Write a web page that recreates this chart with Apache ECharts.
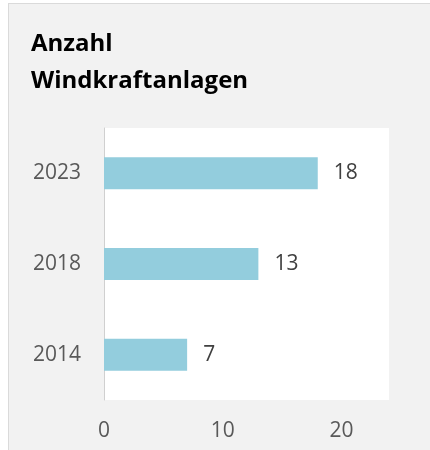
<!DOCTYPE html>
<html>
<head>
<meta charset="utf-8">
<script src="https://cdn.jsdelivr.net/npm/echarts@6/dist/echarts.min.js"></script>
<style>
  html, body { margin: 0; padding: 0; background: #fff; }
  #frame {
    position: absolute; left: 8px; top: 3px;
    width: 440px; height: 460px;
    background: #f2f2f2;
    border: 1px solid #dadada;
  }
  #chart { position: absolute; left: 0; top: 0; width: 430px; height: 450px; }
</style>
</head>
<body>
<div id="frame"></div>
<div id="chart"></div>
<script>
// Daten
const years = ['2014', '2018', '2023'];
const anlagen = [7, 13, 18];
const titel = 'Anzahl\nWindkraftanlagen';

const chart = echarts.init(document.getElementById('chart'));

chart.setOption({
  animation: false,
  title: {
    text: titel,
    left: 26,
    top: 21,
    textStyle: {
      fontFamily: 'Open Sans',
      fontWeight: 'bold',
      fontSize: 24,
      lineHeight: 37,
      color: '#000'
    }
  },
  grid: {
    left: 104,
    right: 41,
    top: 128,
    bottom: 50,
    show: true,
    backgroundColor: '#fff',
    borderWidth: 0
  },
  xAxis: {
    type: 'value',
    min: 0,
    max: 24,
    interval: 10,
    splitLine: { show: false },
    axisLine: { show: false },
    axisTick: { show: false },
    axisLabel: {
      showMaxLabel: false,
      margin: 21,
      fontFamily: 'Open Sans',
      fontSize: 21,
      color: '#595959'
    }
  },
  yAxis: {
    type: 'category',
    data: years,
    axisLine: { show: true, lineStyle: { color: '#d0d0d0', width: 1 } },
    axisTick: { show: false },
    axisLabel: {
      margin: 23,
      fontFamily: 'Open Sans',
      fontSize: 21,
      color: '#595959'
    }
  },
  series: [
    {
      type: 'bar',
      data: anlagen,
      barWidth: 32,
      itemStyle: { color: '#93cddd' },
      label: {
        show: true,
        position: 'right',
        distance: 16,
        fontFamily: 'Open Sans',
        fontSize: 21,
        color: '#404040'
      }
    }
  ]
});
</script>
</body>
</html>
